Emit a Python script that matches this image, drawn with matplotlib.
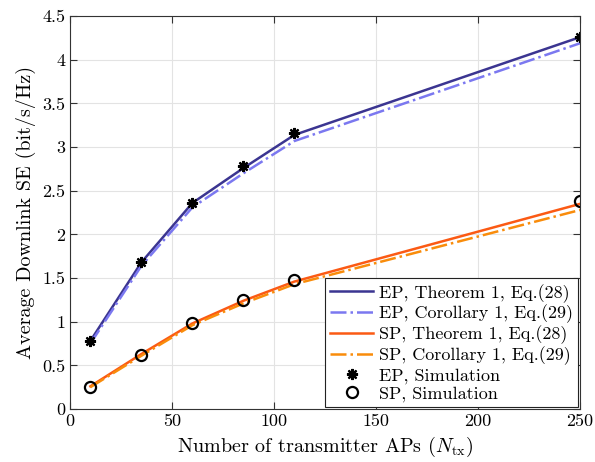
import matplotlib
matplotlib.use("Agg")
import matplotlib.pyplot as plt

plt.rcParams['font.family'] = ['cmr10', 'DejaVu Serif']
plt.rcParams['mathtext.fontset'] = 'cm'
plt.rcParams['axes.formatter.use_mathtext'] = True

n_tx = [10, 35, 60, 85, 110, 250]
ep_theorem = [0.78, 1.68, 2.36, 2.76, 3.14, 4.26]
ep_corollary = [0.75, 1.64, 2.31, 2.70, 3.07, 4.19]
sp_theorem = [0.26, 0.63, 0.98, 1.24, 1.46, 2.35]
sp_corollary = [0.25, 0.61, 0.96, 1.21, 1.43, 2.28]
ep_sim = [0.78, 1.68, 2.36, 2.78, 3.16, 4.26]
sp_sim = [0.25, 0.62, 0.98, 1.25, 1.48, 2.38]

fig = plt.figure(figsize=(5.95, 4.62), dpi=100)
ax = fig.add_axes([0.1176, 0.1147, 0.8574, 0.8503])

ax.plot(n_tx, ep_theorem, '-', color='#3b3591', lw=1.8, label='EP, Theorem 1, Eq.(28)')
ax.plot(n_tx, ep_corollary, '-.', color='#7b78f0', lw=1.8, label='EP, Corollary 1, Eq.(29)')
ax.plot(n_tx, sp_theorem, '-', color='#fb5a14', lw=1.8, label='SP, Theorem 1, Eq.(28)')
ax.plot(n_tx, sp_corollary, '-.', color='#f98c0b', lw=1.8, label='SP, Corollary 1, Eq.(29)')
ax.plot(n_tx, ep_sim, linestyle='none', marker=(8, 2, 0), color='black', ms=8, mew=1.6, label='EP, Simulation')
ax.plot(n_tx, sp_sim, linestyle='none', marker='o', mfc='none', mec='black', ms=8, mew=1.6, label='SP, Simulation')

ax.set_xlim(0, 250)
ax.set_ylim(0, 4.5)
ax.set_xticks([0, 50, 100, 150, 200, 250])
ax.set_yticks([0, 0.5, 1, 1.5, 2, 2.5, 3, 3.5, 4, 4.5])
ax.set_yticklabels(['0', '0.5', '1', '1.5', '2', '2.5', '3', '3.5', '4', '4.5'])
ax.set_xticklabels(['0', '50', '100', '150', '200', '250'])
ax.grid(True, color='#e3e3e3', lw=0.8)
ax.set_axisbelow(True)
ax.tick_params(direction='in', top=True, right=True, labelsize=13, length=5, color='#333333')
for s in ax.spines.values():
    s.set_color('#333333')
    s.set_linewidth(0.8)

ax.set_xlabel(r'Number of transmitter APs ($N_{\mathrm{tx}}$)', fontsize=14.5)
ax.set_ylabel('Average Downlink SE (bit/s/Hz)', fontsize=14.5)

leg = ax.legend(loc='lower right', fontsize=13, frameon=True, fancybox=False,
                edgecolor='#222222', framealpha=1, borderpad=0.3, labelspacing=0.12,
                handlelength=2.4, handletextpad=0.3, borderaxespad=0.1)
leg.get_frame().set_linewidth(0.8)

fig.savefig('out.png', dpi=100)
